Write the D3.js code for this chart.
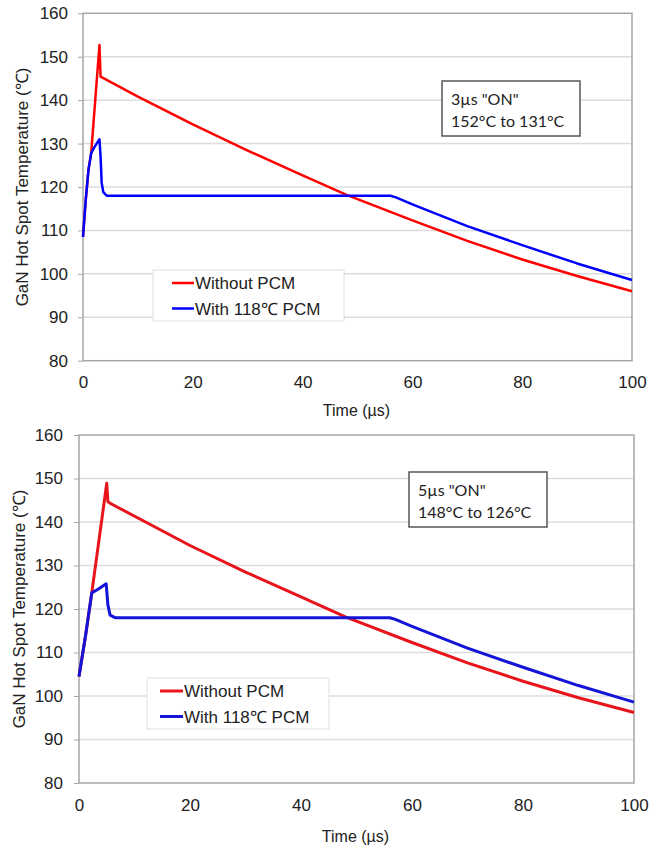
<!DOCTYPE html>
<html lang="en">
<head>
<meta charset="UTF-8">
<title>GaN hot spot temperature with and without PCM</title>
<script src="https://d3js.org/d3.v7.min.js"></script>
<style>
    body { margin: 0; background: #fff; }
    svg { display: block; }
    text { font-family: "Liberation Sans", Arial, sans-serif; fill: #222; }
    .note { font-family: Lato, "Open Sans", sans-serif; fill: #222; }
</style>
</head>
<body>
<div id="chart"></div>
<script>
    // tick labels
    const xTicks = [0, 20, 40, 60, 80, 100];
    const yTicks = [80, 90, 100, 110, 120, 130, 140, 150, 160];

    // series names
    const seriesNames = ["Without PCM", "With 118\u2103 PCM"];

    // 3 µs ON pulse: [time µs, temperature °C]
    const on3Without = [[0, 108.5], [0.5, 117], [1, 124], [1.5, 128], [3.0, 152.7], [3.2, 145.4],
        [10, 140.8], [20, 134.4], [30, 128.4], [40, 122.7], [48, 118.2], [60, 112.3],
        [70, 107.6], [80, 103.3], [90, 99.5], [100, 96]];
    const on3With = [[0, 108.5], [0.5, 117], [1, 124], [1.5, 127.8], [2, 129], [2.6, 130.2],
        [3.0, 131], [3.2, 127], [3.4, 121], [3.7, 118.8], [4.3, 118], [56, 118], [57, 117.6],
        [60, 116], [70, 111], [80, 106.6], [90, 102.4], [100, 98.6]];

    // 5 µs ON pulse
    const on5Without = [[0, 104.5], [1.2, 114], [2.3, 123.7], [5.0, 148.9], [5.2, 144.7], [5.6, 144.3],
        [12, 140], [20, 134.6], [30, 128.5], [40, 122.8], [48, 118.2], [60, 112.3],
        [70, 107.6], [80, 103.4], [90, 99.6], [100, 96.2]];
    const on5With = [[0, 104.5], [1.2, 114], [2.3, 123.7], [3.5, 124.6], [4.9, 125.8], [5.2, 121],
        [5.6, 118.6], [6.5, 118], [56, 118], [57, 117.6], [60, 116], [70, 111], [80, 106.6],
        [90, 102.4], [100, 98.6]];

    const notes3 = ["3\u00b5s \"ON\"", "152\u00b0C to 131\u00b0C"];
    const notes5 = ["5\u00b5s \"ON\"", "148\u00b0C to 126\u00b0C"];

    const width = 662;
    const height = 848;

    const svg = d3.select("#chart")
        .append("svg")
        .attr("width", width)
        .attr("height", height);

    function drawPanel(p) {
        const x = d3.scaleLinear().domain([0, 100]).range([p.left, p.right]);
        const y = d3.scaleLinear().domain([80, 160]).range([p.bottom, p.top]);
        const g = svg.append("g");

        // gridlines
        g.selectAll(".grid")
            .data(yTicks.slice(1, -1))
            .join("line")
            .attr("x1", p.left).attr("x2", p.right)
            .attr("y1", d => y(d)).attr("y2", d => y(d))
            .attr("stroke", "#dcdcdc").attr("stroke-width", 1.5);

        // frame
        g.append("rect")
            .attr("x", p.left).attr("y", p.top)
            .attr("width", p.right - p.left).attr("height", p.bottom - p.top)
            .attr("fill", "none").attr("stroke", "#a6a6a6").attr("stroke-width", 1.5);

        const yAxis = g.append("g")
            .attr("transform", `translate(${p.left},0)`)
            .call(d3.axisLeft(y).tickValues(yTicks).tickSize(5).tickPadding(p.yPad));
        const xAxis = g.append("g")
            .attr("transform", `translate(0,${p.bottom})`)
            .call(d3.axisBottom(x).tickValues(xTicks).tickSize(0).tickPadding(p.xPad));
        [yAxis, xAxis].forEach(a => {
            a.select(".domain").remove();
            a.selectAll("line").attr("stroke", "#a6a6a6");
            a.selectAll("text").attr("font-size", 17).attr("font-family", "Liberation Sans, Arial, sans-serif").attr("fill", "#222");
        });

        g.append("text")
            .attr("x", (p.left + p.right) / 2 - 1)
            .attr("y", p.xTitleY)
            .attr("text-anchor", "middle")
            .attr("font-size", 16)
            .text("Time (\u00b5s)");

        g.append("text")
            .attr("transform", `translate(${p.yTitleX},${(p.top + p.bottom) / 2}) rotate(-90)`)
            .attr("text-anchor", "middle")
            .attr("font-size", 17)
            .text("GaN Hot Spot Temperature (\u2103)");

        const line = d3.line().x(d => x(d[0])).y(d => y(d[1]));
        g.append("path").datum(p.red)
            .attr("d", line).attr("fill", "none")
            .attr("stroke", p.redColor).attr("stroke-width", p.lw).attr("stroke-linejoin", "round");
        g.append("path").datum(p.blue)
            .attr("d", line).attr("fill", "none")
            .attr("stroke", p.blueColor).attr("stroke-width", p.lw).attr("stroke-linejoin", "round");

        // legend
        const lg = g.append("g").attr("transform", `translate(${p.legend[0]},${p.legend[1]})`);
        lg.append("rect")
            .attr("width", p.legend[2]).attr("height", 51)
            .attr("fill", "#fff").attr("stroke", "#e0e0e0").attr("stroke-width", 1);
        [p.redColor, p.blueColor].forEach((c, i) => {
            const row = lg.append("g").attr("transform", `translate(0,${13 + i * 25.5})`);
            row.append("line")
                .attr("x1", p.legendLine[0]).attr("x2", p.legendLine[1])
                .attr("stroke", c).attr("stroke-width", p.lw);
            row.append("text")
                .attr("x", p.legendLine[1] + 1).attr("y", 6)
                .attr("font-size", 17)
                .text(seriesNames[i]);
        });

        // annotation box
        const nb = g.append("g").attr("transform", `translate(${p.note[0]},${p.note[1]})`);
        nb.append("rect")
            .attr("width", p.note[2]).attr("height", 55)
            .attr("fill", "#fff").attr("stroke", "#555").attr("stroke-width", 1.5);
        p.notes.forEach((t, i) => {
            nb.append("text")
                .attr("class", "note")
                .attr("x", 9).attr("y", 24 + i * 22)
                .attr("font-size", 16)
                .text(t);
        });
    }

    drawPanel({
        left: 83, right: 632, top: 13.3, bottom: 360.7,
        yPad: 10, xPad: 15, xTitleY: 416, yTitleX: 28,
        red: on3Without, blue: on3With, redColor: "#ff0000", blueColor: "#0000ff", lw: 2.5,
        legend: [153, 270, 191], legendLine: [19, 41],
        note: [442, 81, 138], notes: notes3
    });

    drawPanel({
        left: 79, right: 634, top: 435, bottom: 783,
        yPad: 11, xPad: 16, xTitleY: 842, yTitleX: 25,
        red: on5Without, blue: on5With, redColor: "#e8141c", blueColor: "#1414d8", lw: 3,
        legend: [147, 678, 182], legendLine: [13, 36],
        note: [409, 472, 138], notes: notes5
    });
</script>
</body>
</html>
